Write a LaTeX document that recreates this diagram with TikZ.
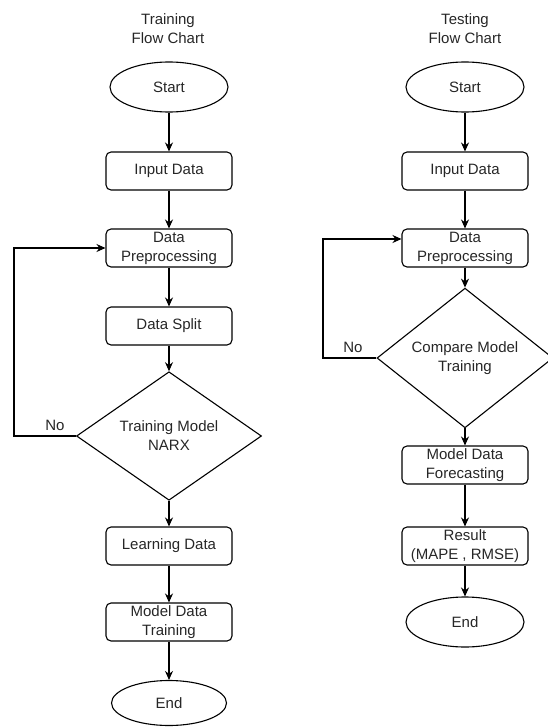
\documentclass[tikz,border=0pt]{standalone}
\usepackage{fontspec}
\setmainfont{Liberation Sans}
\usetikzlibrary{shapes.geometric,arrows.meta}
\definecolor{txtgray}{HTML}{262626}
\begin{document}
\begin{tikzpicture}
  [x=1pt,y=-1pt,
   every node/.style={font=\fontsize{15}{19}\selectfont,text=txtgray,align=center},
   startstop/.style={ellipse,draw,line width=1.1pt,minimum width=118pt,minimum height=50pt},
   process/.style={rectangle,rounded corners=5pt,draw,line width=1.1pt,minimum width=126pt,minimum height=38pt,inner sep=0pt},
   decision/.style={diamond,draw,line width=1.1pt,inner sep=0pt,minimum width=#1,minimum height=102pt},
   arrow/.style={line width=1.1pt,-{Stealth[length=9pt,width=8pt]}}]
  \useasboundingbox (0,0) rectangle (547,728);
  % training flow chart
  \node (t_title) at (168,29) {Training\\Flow Chart};
  \node[startstop] (t_start) at (169,87) {Start};
  \node[process] (t_input) at (169,171) {Input Data};
  \node[process] (t_prep) at (169,248) {Data\\Preprocessing};
  \node[process] (t_split) at (169,326) {Data Split};
  \node[decision=185pt] (t_train) at (169,436) {Training Model\\NARX};
  \node[process] (t_learn) at (169,546) {Learning Data};
  \node[process] (t_model) at (169,622) {Model Data\\Training};
  \node[startstop,minimum width=115pt,minimum height=45pt] (t_end) at (169,703) {End};
  \node (t_no) at (55,425) {No};
  \coordinate (t_back) at (14,436);
  % testing flow chart
  \node (s_title) at (465,29) {Testing\\Flow Chart};
  \node[startstop] (s_start) at (465,87) {Start};
  \node[process] (s_input) at (465,171) {Input Data};
  \node[process] (s_prep) at (465,248) {Data\\Preprocessing};
  \node[decision=176pt] (s_comp) at (465,358) {Compare Model\\Training};
  \node[process] (s_model) at (465,465) {Model Data\\Forecasting};
  \node[process] (s_result) at (465,546) {Result\\(MAPE , RMSE)};
  \node[startstop] (s_end) at (465,622) {End};
  \node (s_no) at (353,347) {No};
  \coordinate (s_back) at (323,358);
  \foreach \from/\to in {t_start/t_input,t_input/t_prep,t_prep/t_split,t_split/t_train,
  t_train/t_learn,t_learn/t_model,t_model/t_end,
  s_start/s_input,s_input/s_prep,s_prep/s_comp,s_comp/s_model,s_model/s_result,s_result/s_end}
    \draw[arrow] (\from) -- (\to);
  % loops back
  \draw[arrow] (t_train.west) -- (t_back) |- (t_prep.west);
  \draw[arrow] (s_comp.west) -- (s_back) |- ([yshift=9pt]s_prep.west);
\end{tikzpicture}
\end{document}
